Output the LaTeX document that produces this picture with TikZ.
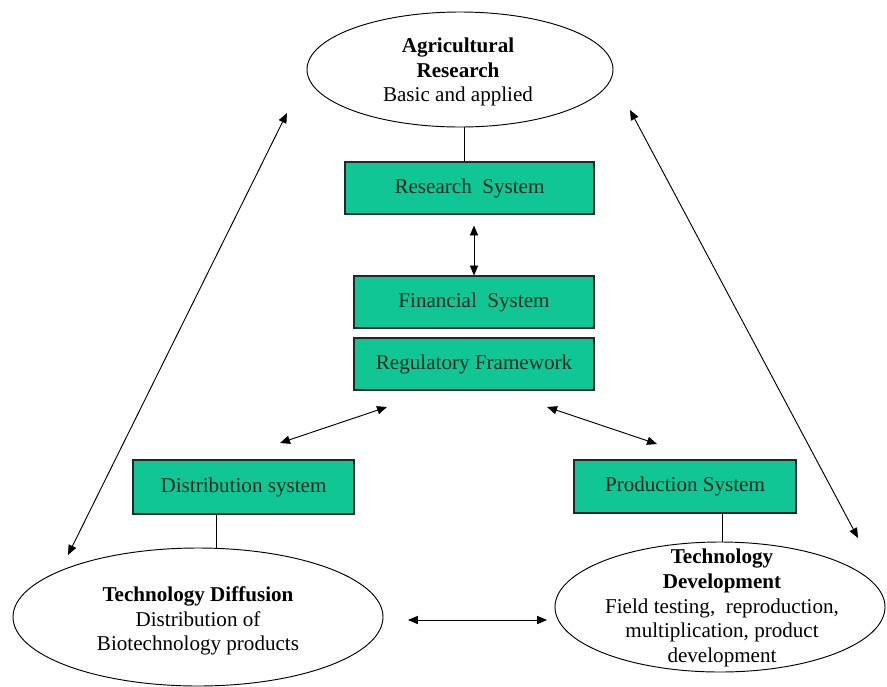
\documentclass[tikz,border=0pt]{standalone}
\usepackage{fontspec}
\setmainfont{Liberation Serif}
\usetikzlibrary{arrows.meta,shapes.geometric,calc}

\definecolor{boxgreen}{RGB}{16,198,148}
\definecolor{boxtext}{RGB}{22,40,32}
\newdimen\pxu \pxu=0.03cm

\tikzset{
  sysbox/.style={rectangle,draw=black!85,fill=boxgreen,line width=0.9pt,inner sep=0pt,text=boxtext,font=\fontsize{18}{21}\selectfont},
  bubble/.style={ellipse,draw,line width=0.8pt,inner sep=0pt},
  bubbletext/.style={inner sep=0pt,align=center,font=\fontsize{18}{21}\selectfont},
  link/.style={line width=0.8pt},
  twoway/.style={line width=0.8pt,{Triangle[length=8.5pt,width=7pt]}-{Triangle[length=8.5pt,width=7pt]}}
}

\begin{document}
\begin{tikzpicture}[x=0.03cm,y=-0.03cm]
\useasboundingbox (0,0) rectangle (887,686);

% Ellipses
\node[bubble,minimum width=306\pxu,minimum height=115\pxu] (agres) at (460,69.5) {};
\node[bubbletext] (agrestext) at (458,72) {\textbf{Agricultural}\\\textbf{Research}\\Basic and applied};
\node[bubble,minimum width=370\pxu,minimum height=138\pxu] (techdiff) at (198,617) {};
\node[bubbletext] (techdifftext) at (198,621) {\textbf{Technology Diffusion}\\Distribution of\\Biotechnology products};
\node[bubble,minimum width=330\pxu,minimum height=130\pxu] (techdev) at (720,607) {};
\node[bubbletext] (techdevtext) at (722,608) {\textbf{Technology}\\\textbf{Development}\\Field testing,~ reproduction,\\multiplication, product\\development};

% Systems
\node[sysbox,minimum width=249\pxu,minimum height=52\pxu] (ressys) at (469.5,188) {\raisebox{-2pt}{Research~ System}};
\node[sysbox,minimum width=240\pxu,minimum height=52\pxu] (finsys) at (474,302) {\raisebox{-2pt}{Financial~ System}};
\node[sysbox,minimum width=240\pxu,minimum height=52\pxu] (regframe) at (474,364) {Regulatory Framework};
\node[sysbox,minimum width=221\pxu,minimum height=54\pxu] (distsys) at (243.5,487) {Distribution system};
\node[sysbox,minimum width=222\pxu,minimum height=53\pxu] (prodsys) at (685,486.5) {Production System};

% Free arrow ends
\coordinate (agresleft) at (287,113);
\coordinate (diffleft) at (68,555);
\coordinate (agresright) at (630,110);
\coordinate (devright) at (858,538);
\coordinate (regleft) at (387,407);
\coordinate (distright) at (280,443);
\coordinate (regright) at (547,407);
\coordinate (prodleft) at (657,444);
\coordinate (diffright) at (408,620);
\coordinate (devleft) at (547,620);

% Links
\draw[link] ($(agres.south)+(4,0)$) -- ($(agres.south |- ressys.north)+(4,0)$);
\draw[link] ($(distsys.south)+(-27.5,0)$) -- ($(techdiff.north)+(18,0)$);
\draw[link] ($(prodsys.south)+(37,0)$) -- ($(techdev.north)+(2,0)$);

\draw[twoway] ($(ressys.south)+(4.5,11)$) -- (finsys.north);
\draw[twoway] (distright) -- (regleft);
\draw[twoway] (regright) -- (prodleft);
\draw[twoway] (diffright) -- (devleft);
\draw[twoway] (agresleft) -- (diffleft);
\draw[twoway] (agresright) -- (devright);
\end{tikzpicture}
\end{document}
